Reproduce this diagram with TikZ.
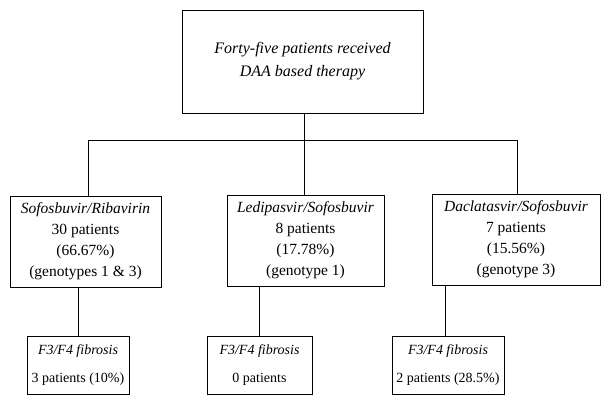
\documentclass[tikz,border=0pt]{standalone}
\usepackage{fontspec}
\setmainfont{Liberation Serif}
\begin{document}
\begin{tikzpicture}[x=1pt,y=-1pt,
  box/.style={draw, line width=0.9pt, inner sep=0pt, align=center},
  conn/.style={line width=0.9pt},
  mid/.style={box, font=\fontsize{15.5}{21}\selectfont},
  low/.style={box, font=\fontsize{14}{28}\selectfont}]
\useasboundingbox (0,0) rectangle (611,405);
\node[box, minimum width=241pt, minimum height=103pt, font=\fontsize{16}{23}\selectfont\itshape] (top) at (302.5,61.5) {Forty-five patients received\\DAA based therapy};
\node[mid, minimum width=151pt, minimum height=91pt] (m1) at (85.5,241.5) {\textit{Sofosbuvir/Ribavirin}\\30 patients\\(66.67\%)\\(genotypes 1 \& 3)};
\node[mid, minimum width=157pt, minimum height=91pt] (m2) at (305.5,240.5) {\textit{Ledipasvir/Sofosbuvir}\\8 patients\\(17.78\%)\\(genotype 1)};
\node[mid, minimum width=168pt, minimum height=91pt] (m3) at (516,239.5) {\textit{Daclatasvir/Sofosbuvir}\\7 patients\\(15.56\%)\\(genotype 3)};
\node[low, minimum width=102pt, minimum height=58pt] (b1) at (78,365) {\textit{F3/F4 fibrosis}\\3 patients (10\%)};
\node[low, minimum width=105pt, minimum height=58pt] (b2) at (259.5,365) {\textit{F3/F4 fibrosis}\\0 patients};
\node[low, minimum width=112pt, minimum height=58pt] (b3) at (448,365) {\textit{F3/F4 fibrosis}\\2 patients (28.5\%)};
\coordinate (j) at (304,140);
\coordinate (jl) at (88,140);
\coordinate (jr) at (517,140);
\draw[conn] (j |- top.south) -- (j);
\draw[conn] (jl) -- (jr);
\draw[conn] (jl) -- (jl |- m1.north);
\draw[conn] (j) -- (j |- m2.north);
\draw[conn] (jr) -- (jr |- m3.north);
\draw[conn] (b1.north) -- (b1.north |- m1.south);
\draw[conn] (b2.north) -- (b2.north |- m2.south);
\draw[conn] ([xshift=-3pt]b3.north) -- ([xshift=-3pt]b3.north |- m3.south);
\end{tikzpicture}
\end{document}
